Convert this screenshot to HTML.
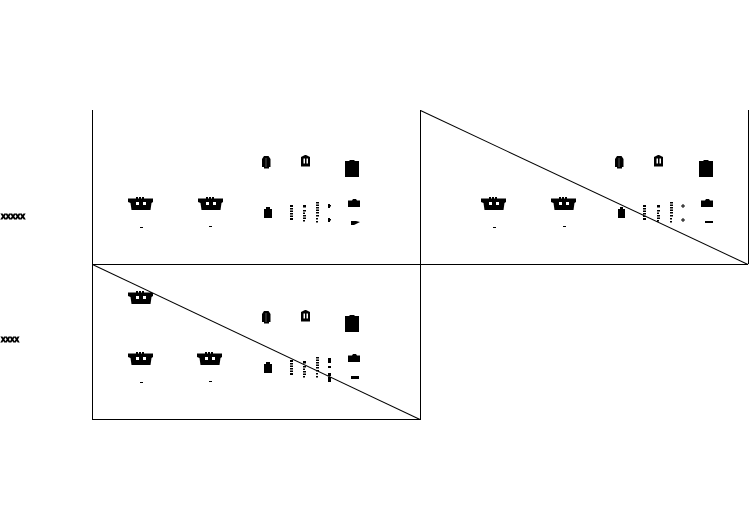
<!DOCTYPE html>
<html>
<head>
<meta charset="utf-8">
<style>
html,body{margin:0;padding:0;background:#fff;width:749px;height:530px;overflow:hidden}
svg{display:block}
text{font-family:"Liberation Sans",sans-serif;font-weight:bold;fill:#000;stroke:#000;stroke-width:.9}
</style>
</head>
<body>
<svg width="749" height="530" viewBox="0 0 749 530" xmlns="http://www.w3.org/2000/svg">
<defs>
  <g id="basket">
    <path d="M0 1.500H25V5L23.500 6L22.500 13H3.500L2.500 6L0 5Z" fill="#000"/>
    <rect x="8" y="5" width="3" height="3" fill="#fff"/>
    <rect x="15" y="5" width="3" height="3" fill="#fff"/>
    <rect x="8" y="0" width="2" height="2" fill="#000"/>
    <rect x="11" y="0" width="2" height="2" fill="#000"/>
    <rect x="14" y="0" width="2" height="2" fill="#000"/>
  </g>
  <g id="tall">
    <path d="M1 1.500L2 0H6.500L7.500 1.500L8.500 3V11H7V12.500H2V11H0V3Z" fill="#000"/>
    <rect x="3.500" y="2" width="1" height="9" fill="#555"/>
  </g>
  <g id="tower">
    <path d="M0 2L2 1L4 0H5L7 1L9 2V11.500H0Z" fill="#000"/>
    <rect x="2.500" y="3.500" width="1.500" height="5" fill="#fff"/>
    <rect x="5.500" y="3.500" width="1.500" height="5" fill="#fff"/>
  </g>
  <g id="big">
    <path d="M0 1H4L5 0H9L10 1H14V17H0Z" fill="#000"/>
  </g>
  <g id="small">
    <path d="M0 2H2V0H6V2H8V11H0Z" fill="#000"/>
  </g>
  <g id="col1" fill="#000">
    <rect x="0" y="0" width="3" height="2"/><rect x="0" y="3" width="3" height="1.500"/>
    <rect x="0" y="5.500" width="3" height="1.500"/><rect x="0" y="8" width="3" height="1.500"/>
    <rect x="0" y="10.500" width="3" height="1.500"/><rect x="0" y="13" width="3" height="2"/>
  </g>
  <g id="col2" fill="#000">
    <rect x="0" y="0" width="3" height="2.500"/><rect x="0" y="5" width="3" height="1.500"/>
    <rect x="0" y="7.500" width="2" height="1.500"/><rect x="0" y="10" width="3" height="1.500"/>
    <rect x="0" y="12.500" width="3" height="1.500"/><rect x="0" y="15" width="2" height="1.500"/>
  </g>
  <g id="col3" fill="#000">
    <rect x="0" y="0" width="3" height="1.500"/><rect x="0" y="2.500" width="3" height="1.500"/>
    <rect x="0" y="5" width="3" height="1.500"/><rect x="0" y="7.500" width="3" height="1.500"/>
    <rect x="0" y="10" width="3" height="1.500"/><rect x="0" y="13" width="3" height="1.500"/>
    <rect x="0" y="16" width="2" height="1.500"/><rect x="0" y="19" width="2" height="1.500"/>
  </g>
  <g id="block">
    <path d="M0 1.500H4L5 0H8L9 1.500H12V8H0Z" fill="#000"/>
  </g>
</defs>

<g stroke="#000" stroke-width="1" fill="none">
  <path d="M92.500 110V419.500H420.500V110" shape-rendering="crispEdges"/>
  <path d="M92 264.500H748" shape-rendering="crispEdges"/>
  <path d="M748.500 110V264" shape-rendering="crispEdges"/>
  <path d="M420.500 110.500L748 264.500"/>
  <path d="M92.500 264.500L420 419.500"/>
</g>

<text x="1" y="219" font-size="7" textLength="24" lengthAdjust="spacingAndGlyphs">XXXXX</text>
<text x="1" y="342" font-size="7" textLength="18" lengthAdjust="spacingAndGlyphs">XXXX</text>

<!-- Panel 1 -->
<use href="#basket" x="128" y="197"/>
<use href="#basket" x="198" y="197"/>
<rect x="140" y="227" width="3" height="1"/>
<rect x="209" y="226" width="3" height="1"/>
<use href="#tall" x="262" y="156"/>
<use href="#tower" x="301" y="155"/>
<use href="#big" x="345" y="160"/>
<use href="#small" x="264" y="207"/>
<use href="#col1" x="290" y="205"/>
<use href="#col2" x="303" y="205"/>
<use href="#col3" x="316" y="202"/>
<rect x="328" y="204" width="2" height="4"/><rect x="330" y="205" width="1" height="1.500"/>
<rect x="328" y="218" width="2" height="4"/><rect x="330" y="219" width="1" height="1.500"/>
<use href="#block" x="348" y="199"/>
<path d="M351 221H356L360 222L356 224L354 225H351Z" fill="#000"/>

<!-- Panel 2 -->
<use href="#basket" x="481" y="197"/>
<use href="#basket" x="551" y="197"/>
<rect x="493" y="227" width="3" height="1"/>
<rect x="563" y="226" width="3" height="1"/>
<use href="#tall" x="615" y="156"/>
<use href="#tower" x="654" y="155"/>
<use href="#big" x="699" y="160"/>
<rect x="618" y="209" width="7" height="9"/><rect x="620" y="207" width="3" height="2"/>
<use href="#col1" x="643" y="205"/>
<use href="#col2" x="657" y="205"/>
<use href="#col3" x="670" y="202"/>
<path d="M683 204V208M681 206H685M683 218V222M681 220H685" stroke="#000" stroke-width="1" fill="none"/>
<use href="#block" x="701" y="199"/>
<rect x="705" y="221" width="8" height="2"/>

<!-- Panel 3 -->
<use href="#basket" x="128" y="291"/>
<use href="#basket" x="128" y="352"/>
<use href="#basket" x="197" y="352"/>
<rect x="140" y="382" width="3" height="1"/>
<rect x="209" y="381" width="3" height="1"/>
<use href="#tall" x="262" y="311"/>
<use href="#tower" x="301" y="310"/>
<use href="#big" x="345" y="315"/>
<use href="#small" x="264" y="362"/>
<use href="#col1" x="290" y="360"/>
<use href="#col2" x="303" y="361"/>
<use href="#col3" x="316" y="357"/>
<rect x="328" y="358" width="3" height="5"/><rect x="328" y="366" width="3" height="2"/>
<rect x="328" y="373" width="3" height="3"/><rect x="328" y="377" width="3" height="5"/>
<use href="#block" x="348" y="354"/>
<rect x="351" y="376" width="8" height="3"/>
</svg>
</body>
</html>
